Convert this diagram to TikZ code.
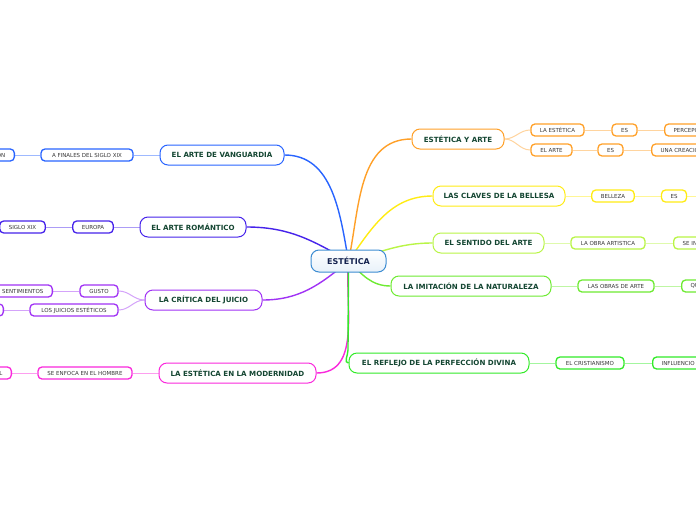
\documentclass[tikz,border=0pt]{standalone}
\usepackage{fontspec}
\setmainfont{DejaVu Sans}
\usepackage{tikz}
\usetikzlibrary{positioning,backgrounds}
\definecolor{cvan}{RGB}{40,100,255}
\definecolor{crom}{RGB}{70,35,235}
\definecolor{ccrit}{RGB}{160,50,245}
\definecolor{cmod}{RGB}{250,40,220}
\definecolor{cart}{RGB}{255,160,40}
\definecolor{ccla}{RGB}{255,236,20}
\definecolor{csen}{RGB}{185,245,70}
\definecolor{cimi}{RGB}{110,235,50}
\definecolor{cref}{RGB}{50,235,40}
\definecolor{croot}{RGB}{60,140,210}
\definecolor{maintext}{RGB}{20,70,50}
\definecolor{roottext}{RGB}{20,35,80}
\definecolor{leaftext}{RGB}{55,55,55}

\begin{document}
\begin{tikzpicture}[x=1pt, y=1pt,
  rootbox/.style={draw=croot, top color=white, bottom color=croot!12, rounded corners=8pt, line width=1pt, minimum height=22pt, minimum width=75pt, inner sep=0pt, font=\fontsize{8}{9}\selectfont\bfseries, text=roottext},
  topic/.style={draw=#1, fill=white, rounded corners=8pt, line width=1pt, minimum height=20pt, inner sep=0pt, font=\fontsize{7.1}{8}\selectfont\bfseries, text=maintext},
  leaf/.style={draw=#1, fill=white, rounded corners=4pt, line width=1.3pt, minimum height=12pt, inner ysep=0pt, inner xsep=9pt, font=\fontsize{5.5}{6}\selectfont, text=leaftext},
  link/.style={draw=#1, line width=1.4pt},
  twig/.style={draw=#1!45, line width=1pt}]

  \useasboundingbox (0,0) rectangle (696,-520);
  \clip (0,0) rectangle (696,-520);

  \node[rootbox] (root) at (348.5,-261) {ESTÉTICA};

  \node[topic=cvan, minimum width=124pt] (vanguardia) at (222,-155) {EL ARTE DE VANGUARDIA};
  \node[topic=crom, minimum width=106pt] (romantico) at (193,-227) {EL ARTE ROMÁNTICO};
  \node[topic=ccrit, minimum width=117pt] (critica) at (203.5,-300) {LA CRÍTICA DEL JUICIO};
  \node[topic=cmod, minimum width=157pt] (modernidad) at (237.5,-373) {LA ESTÉTICA EN LA MODERNIDAD};

  \node[topic=cart, minimum width=92pt] (estarte) at (458,-139) {ESTÉTICA Y ARTE};
  \node[topic=ccla, minimum width=132pt] (claves) at (499,-196) {LAS CLAVES DE LA BELLESA};
  \node[topic=csen, minimum width=111pt] (sentido) at (488.5,-243) {EL SENTIDO DEL ARTE};
  \node[topic=cimi, minimum width=160pt] (imitacion) at (471,-286) {LA IMITACIÓN DE LA NATURALEZA};
  \node[topic=cref, minimum width=180pt] (reflejo) at (439,-363) {EL REFLEJO DE LA PERFECCIÓN DIVINA};

  \node[leaf=cvan, anchor=east, text width=30pt, align=right] (on) at (15,-155) {ON};
  \node[leaf=cvan, minimum width=92pt] (finales) at (87,-155) {A FINALES DEL SIGLO XIX};
  \node[leaf=crom, minimum width=45pt] (siglo) at (22.5,-227) {SIGLO XIX};
  \node[leaf=crom, minimum width=40pt] (europa) at (93,-227) {EUROPA};
  \node[leaf=ccrit, anchor=east, text width=60pt, align=right] (sentim) at (53,-291) {SENTIMIENTOS};
  \node[leaf=ccrit, minimum width=38pt] (gusto) at (99,-291) {GUSTO};
  \node[leaf=ccrit, anchor=east, minimum width=30pt] (blank) at (4,-310) {};
  \node[leaf=ccrit, minimum width=88pt] (juicios) at (74,-310) {LOS JUICIOS ESTÉTICOS};
  \node[leaf=cmod, anchor=east, text width=30pt, align=right] (ele) at (12,-373) {L};
  \node[leaf=cmod, minimum width=94pt] (enfoca) at (85,-373) {SE ENFOCA EN EL HOMBRE};

  \node[leaf=cart, minimum width=53pt] (laest) at (557.5,-130) {LA ESTÉTICA};
  \node[leaf=cart, minimum width=25pt] (es1) at (624.5,-130) {ES};
  \node[leaf=cart, anchor=west, text width=40pt, align=left] (percep) at (664,-130) {PERCEPC};
  \node[leaf=cart, minimum width=41pt] (elarte) at (551.5,-150) {EL ARTE};
  \node[leaf=cart, minimum width=25pt] (es2) at (610.5,-150) {ES};
  \node[leaf=cart, anchor=west, text width=50pt, align=left] (creacion) at (651,-150) {UNA CREACIÓ};
  \node[leaf=ccla, minimum width=42pt] (belleza) at (613,-196) {BELLEZA};
  \node[leaf=ccla, minimum width=24pt] (es3) at (674,-196) {ES};
  \coordinate (edge) at (696,-196);
  \node[leaf=csen, minimum width=74pt] (obra) at (608,-243) {LA OBRA ARTISTICA};
  \node[leaf=csen, anchor=west, text width=30pt, align=left] (seinm) at (673,-243) {SE IN};
  \node[leaf=cimi, minimum width=76pt] (obras) at (616,-286) {LAS OBRAS DE ARTE};
  \node[leaf=cimi, anchor=west, text width=30pt, align=left] (qu) at (681,-286) {QU};
  \node[leaf=cref, minimum width=68pt] (cristian) at (590,-363) {EL CRISTIANISMO};
  \node[leaf=cref, anchor=west, text width=50pt, align=left] (influ) at (652,-363) {INFLUENCIO};

  \begin{scope}[on background layer]
    \fill[white] (0,0) rectangle (696,-520);

    \draw[link=cvan] (root.center) to[out=100, in=0] (vanguardia.east);
    \draw[link=crom] (root.center) to[out=150, in=0] (romantico.east);
    \draw[link=ccrit] (root.center) to[out=220, in=0] (critica.east);
    \draw[link=cmod] (root.center) to[out=265, in=0] (modernidad.east);
    \draw[link=cart] (root.center) to[out=78, in=180] (estarte.west);
    \draw[link=ccla] (root.center) to[out=55, in=180] (claves.west);
    \draw[link=csen] (root.center) to[out=15, in=180] (sentido.west);
    \draw[link=cimi] (root.center) to[out=-45, in=180] (imitacion.west);
    \draw[link=cref] (root.center) -- (348,-350) to[out=-90, in=180] (reflejo.west);

    \draw[twig=cvan] (vanguardia.west) -- (finales.east) (finales.west) -- (on.east);
    \draw[twig=crom] (romantico.west) -- (europa.east) (europa.west) -- (siglo.east);
    \draw[twig=ccrit] (critica.west) to[out=180, in=0] (gusto.east);
    \draw[twig=ccrit] (critica.west) to[out=180, in=0] (juicios.east);
    \draw[twig=ccrit] (gusto.west) -- (sentim.east) (juicios.west) -- (blank.east);
    \draw[twig=cmod] (modernidad.west) -- (enfoca.east) (enfoca.west) -- (ele.east);

    \draw[twig=cart] (estarte.east) to[out=0, in=180] (laest.west);
    \draw[twig=cart] (estarte.east) to[out=0, in=180] (elarte.west);
    \draw[twig=cart] (laest.east) -- (es1.west) (es1.east) -- (percep.west);
    \draw[twig=cart] (elarte.east) -- (es2.west) (es2.east) -- (creacion.west);
    \draw[twig=ccla] (claves.east) -- (belleza.west) (belleza.east) -- (es3.west) (es3.east) -- (edge);
    \draw[twig=csen] (sentido.east) -- (obra.west) (obra.east) -- (seinm.west);
    \draw[twig=cimi] (imitacion.east) -- (obras.west) (obras.east) -- (qu.west);
    \draw[twig=cref] (reflejo.east) -- (cristian.west) (cristian.east) -- (influ.west);
  \end{scope}

\end{tikzpicture}
\end{document}
